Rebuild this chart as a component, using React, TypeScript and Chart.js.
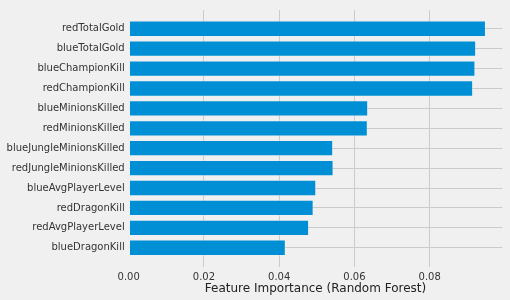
import React, { useEffect, useRef } from "react";
import { Chart, registerables } from "chart.js";

Chart.register(...registerables);

const features = [
  "redTotalGold",
  "blueTotalGold",
  "blueChampionKill",
  "redChampionKill",
  "blueMinionsKilled",
  "redMinionsKilled",
  "blueJungleMinionsKilled",
  "redJungleMinionsKilled",
  "blueAvgPlayerLevel",
  "redDragonKill",
  "redAvgPlayerLevel",
  "blueDragonKill",
];

const importances = [
  0.0949, 0.0923, 0.0921, 0.0915, 0.0636, 0.0635, 0.0543, 0.0544, 0.0498,
  0.0491, 0.0479, 0.0417,
];

const xTicks = [0, 0.02, 0.04, 0.06, 0.08];
const xTitle = "Feature Importance (Random Forest)";

export default function App() {
  const ref = useRef<HTMLCanvasElement | null>(null);

  useEffect(() => {
    document.body.style.margin = "0";
    document.body.style.background = "#f0f0f0";
    if (!ref.current) return;
    const points = importances.map((v, i) => ({ x: v, y: i }));
    const chart = new Chart(ref.current, {
      type: "bar",
      data: {
        datasets: [
          {
            data: points as any,
            backgroundColor: "#008fd5",
            borderColor: "rgba(240,240,240,0.55)",
            borderWidth: 0.8,
            borderSkipped: false,
            categoryPercentage: 1,
            barPercentage: 0.8,
          },
        ],
      },
      options: {
        indexAxis: "y",
        animation: false,
        responsive: true,
        maintainAspectRatio: false,
        layout: { padding: { top: 5.5, right: 7.7, bottom: 0, left: 0 } },
        plugins: { legend: { display: false }, tooltip: { enabled: false } },
        scales: {
          x: {
            type: "linear",
            min: 0,
            max: 0.0993,
            offset: false,
            afterBuildTicks: (scale: any) => {
              scale.ticks = xTicks.map((v) => ({ value: v }));
            },
            afterFit: (scale: any) => {
              scale.height = 33.5;
            },
            border: { display: false },
            grid: {
              drawTicks: false,
              offset: false,
              color: (ctx: any) =>
                ctx.tick && ctx.tick.value === 0 ? "rgba(0,0,0,0)" : "#cbcbcb",
              lineWidth: 1,
            },
            ticks: {
              padding: 4.7,
              color: "#333333",
              font: { family: "DejaVu Sans", size: 10 },
              callback: (v: any) => Number(v).toFixed(2),
            },
            title: {
              display: true,
              text: xTitle,
              color: "#222222",
              font: { family: "DejaVu Sans", size: 12 },
              padding: { top: 0, bottom: 3.6 },
            },
          },
          y: {
            type: "linear",
            reverse: true,
            offset: false,
            min: -0.94,
            max: 11.94,
            afterBuildTicks: (scale: any) => {
              scale.ticks = features.map((_, i) => ({ value: i }));
            },
            afterFit: (scale: any) => {
              scale.width = 128.7;
            },
            border: { display: false },
            grid: {
              drawTicks: false,
              offset: false,
              color: "#cbcbcb",
              lineWidth: 1,
            },
            ticks: {
              padding: 4,
              color: "#333333",
              font: { family: "DejaVu Sans", size: 10 },
              callback: (v: any) => features[Math.round(Number(v))] ?? "",
            },
          },
        },
      },
    });
    return () => chart.destroy();
  }, []);

  return (
    <div
      style={{
        position: "absolute",
        left: 0,
        top: 0,
        width: 510,
        height: 300,
        background: "#f0f0f0",
      }}
    >
      <canvas ref={ref} />
    </div>
  );
}
